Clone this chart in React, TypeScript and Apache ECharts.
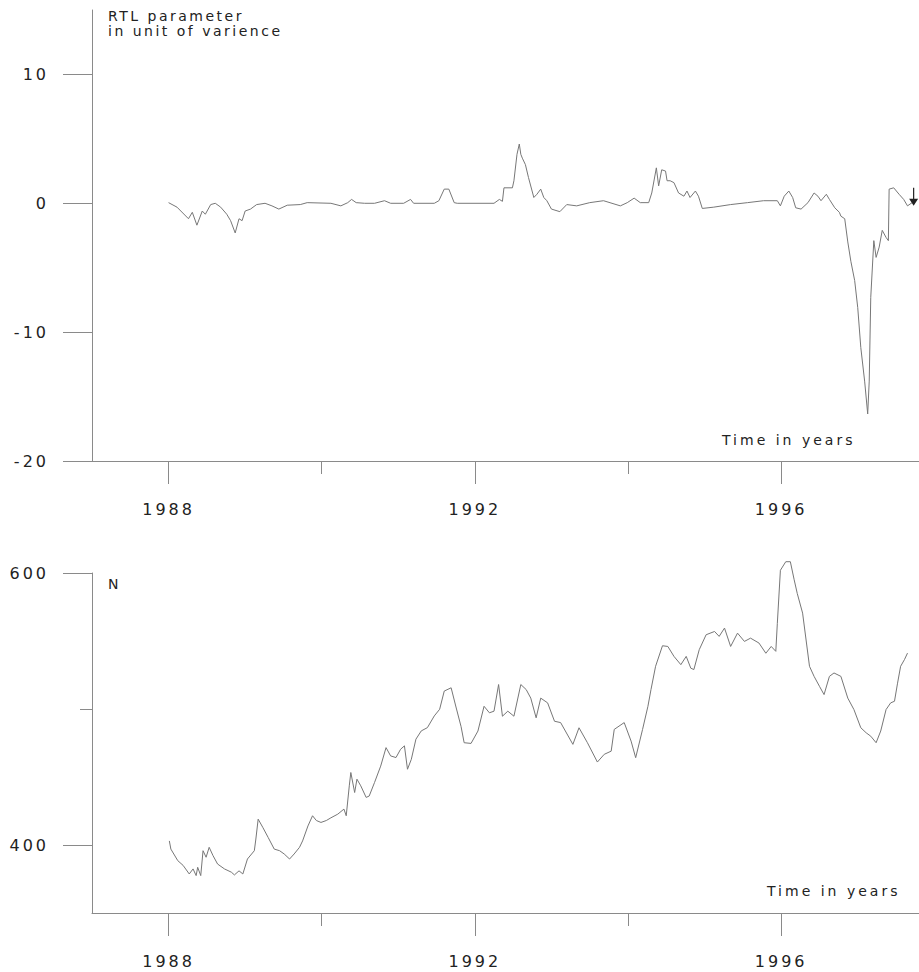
import React, { useEffect, useRef } from "react";
import * as echarts from "echarts";

// ---- Data: RTL parameter (top panel) ----
const rtlYears = [
  1988.0, 1988.11, 1988.26, 1988.31, 1988.37, 1988.44, 1988.48, 1988.55, 1988.61, 1988.68,
  1988.76, 1988.81, 1988.87, 1988.92, 1988.96, 1989.0, 1989.07, 1989.15, 1989.26, 1989.35,
  1989.44, 1989.55, 1989.72, 1989.81, 1990.12, 1990.25, 1990.34, 1990.39, 1990.45, 1990.56,
  1990.69, 1990.82, 1990.9, 1991.07, 1991.16, 1991.2, 1991.47, 1991.53, 1991.6, 1991.66,
  1991.73, 1991.77, 1992.25, 1992.32, 1992.36, 1992.38, 1992.49, 1992.51, 1992.55, 1992.58,
  1992.6, 1992.62, 1992.66, 1992.7, 1992.77, 1992.81, 1992.86, 1992.9, 1992.94, 1993.0,
  1993.11, 1993.2, 1993.33, 1993.5, 1993.68, 1993.9, 1993.99, 1994.08, 1994.16, 1994.27,
  1994.31, 1994.37, 1994.4, 1994.44, 1994.49, 1994.51, 1994.55, 1994.6, 1994.66, 1994.73,
  1994.77, 1994.81, 1994.88, 1994.92, 1994.97, 1995.12, 1995.34, 1995.56, 1995.77, 1995.95,
  1995.99, 1996.04, 1996.1, 1996.15, 1996.19, 1996.26, 1996.35, 1996.43, 1996.48, 1996.52,
  1996.59, 1996.63, 1996.7, 1996.76, 1996.78, 1996.83, 1996.87, 1996.91, 1996.96, 1997.0,
  1997.04, 1997.09, 1997.13, 1997.15, 1997.17, 1997.21, 1997.24, 1997.28, 1997.32, 1997.37,
  1997.4, 1997.41, 1997.47, 1997.54, 1997.6, 1997.65, 1997.71,
];
const rtlValues = [
  0.05, -0.3, -1.2, -0.7, -1.7, -0.6, -0.85, -0.1, 0, -0.3,
  -0.85, -1.35, -2.3, -1.2, -1.35, -0.6, -0.45, -0.1, 0, -0.2,
  -0.45, -0.15, -0.1, 0.05, 0, -0.2, 0.05, 0.3, 0.05, 0,
  0, 0.2, 0, 0, 0.3, 0, 0, 0.2, 1.1, 1.1,
  0.05, 0, 0, 0.3, 0.15, 1.2, 1.2, 1.75, 3.8, 4.6,
  3.8, 3.5, 3.0, 2.0, 0.45, 0.7, 1.1, 0.45, 0.2, -0.45,
  -0.65, -0.1, -0.2, 0.05, 0.2, -0.2, 0.05, 0.4, 0.05, 0.05,
  0.8, 2.75, 1.35, 2.6, 2.5, 1.75, 1.75, 1.6, 0.8, 0.55,
  0.95, 0.45, 0.95, 0.55, -0.4, -0.3, -0.1, 0.05, 0.2, 0.2,
  -0.2, 0.55, 0.95, 0.45, -0.35, -0.45, 0.05, 0.8, 0.55, 0.2,
  0.7, 0.3, -0.35, -0.7, -1.0, -1.2, -3.0, -4.5, -6.0, -8.1,
  -11.2, -13.8, -16.35, -13.8, -7.3, -2.9, -4.2, -3.4, -2.1, -2.65,
  -2.9, 1.1, 1.2, 0.7, 0.3, -0.2, 0.05,
];

// ---- Data: N (bottom panel) ----
const nYears = [
  1988.01, 1988.03, 1988.12, 1988.19, 1988.27, 1988.32, 1988.36, 1988.38, 1988.42, 1988.45,
  1988.49, 1988.53, 1988.58, 1988.64, 1988.73, 1988.82, 1988.86, 1988.92, 1988.97, 1989.03,
  1989.12, 1989.14, 1989.17, 1989.23, 1989.3, 1989.38, 1989.45, 1989.51, 1989.58, 1989.64,
  1989.71, 1989.75, 1989.82, 1989.88, 1989.93, 1989.99, 1990.06, 1990.12, 1990.21, 1990.29,
  1990.32, 1990.36, 1990.38, 1990.43, 1990.46, 1990.51, 1990.58, 1990.62, 1990.69, 1990.77,
  1990.84, 1990.9, 1990.97, 1991.03, 1991.08, 1991.12, 1991.17, 1991.23, 1991.3, 1991.38,
  1991.47, 1991.54, 1991.6, 1991.69, 1991.75, 1991.82, 1991.86, 1991.95, 1992.04, 1992.12,
  1992.19, 1992.25, 1992.31, 1992.36, 1992.43, 1992.51, 1992.6, 1992.67, 1992.73, 1992.8,
  1992.86, 1992.95, 1993.04, 1993.12, 1993.28, 1993.36, 1993.47, 1993.6, 1993.69, 1993.78,
  1993.82, 1993.95, 1994.04, 1994.1, 1994.19, 1994.26, 1994.3, 1994.36, 1994.45, 1994.52,
  1994.6, 1994.69, 1994.76, 1994.82, 1994.86, 1994.93, 1995.02, 1995.13, 1995.19, 1995.26,
  1995.34, 1995.43, 1995.52, 1995.6, 1995.71, 1995.8, 1995.87, 1995.93, 1995.95, 1995.99,
  1996.06, 1996.12, 1996.17, 1996.21, 1996.28, 1996.37, 1996.43, 1996.5, 1996.56, 1996.63,
  1996.69, 1996.78, 1996.87, 1996.95, 1997.04, 1997.11, 1997.17, 1997.24, 1997.3, 1997.37,
  1997.43, 1997.48, 1997.52, 1997.56, 1997.61, 1997.65,
];
const nValues = [
  403, 397, 388.5, 385, 378.7, 382.4, 377.5, 383.6, 377.5, 395.8,
  391, 398.3, 392.2, 386, 382.4, 380, 378, 381, 378.7, 389.7,
  395.8, 404.4, 419, 413, 405.6, 397, 395.8, 393.4, 389.7, 393.4,
  398.3, 403, 414, 421.5, 418, 416.6, 418, 420, 422.7, 426.4,
  421.5, 443.5, 453.3, 438.6, 448.4, 443.5, 435, 436, 446, 458,
  471.6, 465.5, 464.3, 470.4, 472.9, 455.7, 463, 477.8, 483.9, 486.3,
  494.9, 499.8, 513.2, 515.6, 502.2, 487, 475.2, 474.7, 483.8, 502,
  497.2, 498.4, 518, 494.7, 498.4, 494.7, 518, 514.3, 508, 493.5,
  508, 504.5, 491, 490, 474, 486.2, 475.2, 461, 466.7, 469,
  485, 490, 476.4, 464.2, 485, 502, 514.3, 531.4, 546.5, 546,
  538.7, 532.6, 538.7, 530, 529, 543.6, 554.6, 557, 553.4, 559.5,
  546, 555.8, 549.7, 552.1, 548.5, 541, 546, 542.4, 563, 602,
  608.3, 608.3, 595, 585, 570.5, 531.4, 524, 516.7, 510.6, 524,
  526.5, 524, 508, 499.6, 486.2, 482.5, 480, 475.2, 483.8, 499.6,
  504.5, 505.7, 519, 531.4, 536.3, 541.1,
];

// ---- Axis ticks / labels ----
const yearMajor = [1988, 1992, 1996];
const yearMinor = [1990, 1994];
const rtlTicks = [-20, -10, 0, 10];
const nMajor = [400, 600];
const nMinor = [500];
const arrowCoord = [1997.73, 0.5];

const AXIS = "#8a8a8a";
const LINE = "#777777";
const TEXT = "#222222";
const FONT = "DejaVu Sans";
const TITLE_LINES = ["RTL parameter", "in unit of varience"];

export default function App() {
  const ref = useRef<HTMLDivElement>(null);

  useEffect(() => {
    if (!ref.current) return;
    const chart = echarts.init(ref.current, null, { renderer: "svg" });
    const xMin = 1987;
    const xMax = 1997.8;

    const majorX = (gridIndex: number) => ({
      type: "value",
      gridIndex,
      position: "bottom",
      min: xMin,
      max: xMax,
      axisLine: { show: true, onZero: false, lineStyle: { color: AXIS, width: 1 } },
      axisTick: { show: true, customValues: yearMajor, length: 23, lineStyle: { color: AXIS } },
      axisLabel: {
        show: true,
        customValues: yearMajor,
        formatter: (v: number) => String(Math.round(v)),
        margin: 40,
        color: TEXT,
        fontSize: 16,
        fontFamily: FONT,
      },
      splitLine: { show: false },
    });
    const minorX = (gridIndex: number) => ({
      type: "value",
      gridIndex,
      position: "bottom",
      min: xMin,
      max: xMax,
      axisLine: { show: false, onZero: false },
      axisTick: { show: true, customValues: yearMinor, length: 13, lineStyle: { color: AXIS } },
      axisLabel: { show: false },
      splitLine: { show: false },
    });

    const labelStyle = {
      color: TEXT,
      fontSize: 16,
      fontFamily: FONT,
      margin: 43,
      formatter: (v: number) => String(v),
    };

    chart.setOption({
      animation: false,
      backgroundColor: "#ffffff",
      grid: [
        { left: 92, right: 0, top: 10, height: 451 },
        { left: 92, right: 0, top: 573, height: 340 },
      ],
      xAxis: [majorX(0), minorX(0), majorX(1), minorX(1)],
      yAxis: [
        {
          type: "value",
          gridIndex: 0,
          position: "left",
          min: -20,
          max: 15,
          axisLine: { show: true, onZero: false, lineStyle: { color: AXIS } },
          axisTick: { show: true, customValues: rtlTicks, length: 29, lineStyle: { color: AXIS } },
          axisLabel: { show: true, customValues: rtlTicks, ...labelStyle },
          splitLine: { show: false },
        },
        {
          type: "value",
          gridIndex: 1,
          position: "left",
          min: 350,
          max: 600,
          axisLine: { show: true, onZero: false, lineStyle: { color: AXIS } },
          axisTick: { show: true, customValues: nMajor, length: 29, lineStyle: { color: AXIS } },
          axisLabel: { show: true, customValues: nMajor, ...labelStyle },
          splitLine: { show: false },
        },
        {
          type: "value",
          gridIndex: 1,
          position: "left",
          min: 350,
          max: 600,
          axisLine: { show: false, onZero: false },
          axisTick: { show: true, customValues: nMinor, length: 12, lineStyle: { color: AXIS } },
          axisLabel: { show: false },
          splitLine: { show: false },
        },
      ],
      series: [
        {
          type: "line",
          xAxisIndex: 0,
          yAxisIndex: 0,
          data: rtlYears.map((y, i) => [y, rtlValues[i]]),
          showSymbol: false,
          symbol: "none",
          silent: true,
          lineStyle: { color: LINE, width: 1 },
          markPoint: {
            silent: true,
            symbol: "path://M4.4 0 L5.6 0 L5.6 11 L9.5 11 L5 18 L0.5 11 L4.4 11 Z",
            symbolSize: [9, 18],
            itemStyle: { color: "#222" },
            label: { show: false },
            data: [{ coord: arrowCoord }],
          },
        },
        {
          type: "line",
          xAxisIndex: 2,
          yAxisIndex: 1,
          data: nYears.map((y, i) => [y, nValues[i]]),
          showSymbol: false,
          symbol: "none",
          silent: true,
          clip: false,
          lineStyle: { color: LINE, width: 1 },
        },
      ],
      graphic: [
        {
          type: "text",
          left: 108,
          top: 8,
          style: {
            text: TITLE_LINES.join("\n"),
            fill: TEXT,
            font: `14px '${FONT}'`,
            lineHeight: 15,
          },
        },
        {
          type: "text",
          left: 722,
          top: 433,
          style: { text: "Time in years", fill: TEXT, font: `14px '${FONT}'` },
        },
        {
          type: "text",
          left: 767,
          top: 884,
          style: { text: "Time in years", fill: TEXT, font: `14px '${FONT}'` },
        },
        {
          type: "text",
          left: 108,
          top: 577,
          style: { text: "N", fill: TEXT, font: `14px '${FONT}'` },
        },
      ],
    });

    // widen the letter spacing as in the reference typography
    ref.current.querySelectorAll("text").forEach((t) => {
      const content = (t.textContent || "").trim();
      const isTitle = TITLE_LINES.some((l) => content.indexOf(l) >= 0);
      t.setAttribute("letter-spacing", isTitle ? "2.5" : "3");
    });

    return () => {
      chart.dispose();
    };
  }, []);

  return (
    <div
      ref={ref}
      style={{ position: "absolute", left: 0, top: 0, width: 919, height: 972, background: "#fff" }}
    />
  );
}
